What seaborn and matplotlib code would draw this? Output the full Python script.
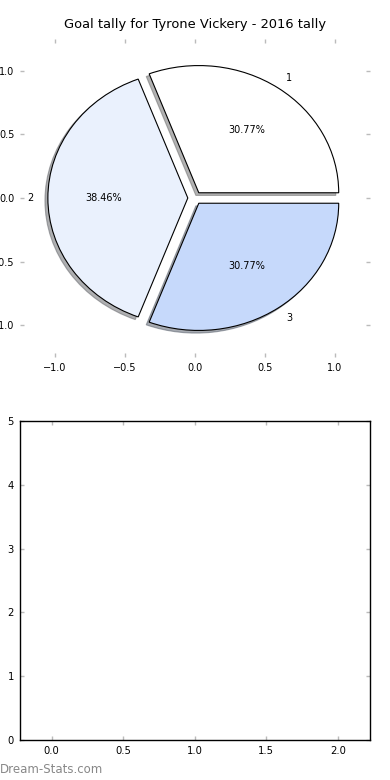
import matplotlib
matplotlib.use('Agg')
import matplotlib.pyplot as plt
import seaborn as sns

# goals per category for the 2016 season
categories = ['1', '2', '3']
goals = [4, 5, 4]
wedge_colors = ['#ffffff', '#eaf1fd', '#c6d9fb']
explode = [0.05, 0.05, 0.05]

# second panel is empty, only its scales
x_ticks_bottom = [0.0, 0.5, 1.0, 1.5, 2.0]
y_ticks_bottom = [0, 1, 2, 3, 4, 5]

sns.set_style('white')
plt.rcParams['font.family'] = ['DejaVu Sans']
plt.rcParams['text.color'] = 'black'
plt.rcParams['xtick.labelcolor'] = 'black'
plt.rcParams['ytick.labelcolor'] = 'black'

fig = plt.figure(figsize=(3.9, 7.8), dpi=100)

ax1 = fig.add_axes([0.051, 0.5423, 0.897, 0.4077])
ax1.pie(goals, labels=categories, colors=wedge_colors, explode=explode,
        autopct='%1.2f%%', startangle=0, frame=True,
        shadow={'ox': -0.015, 'oy': -0.015, 'shade': 0.6},
        wedgeprops={'edgecolor': 'black', 'linewidth': 0.8},
        textprops={'fontsize': 7})
ax1.set_aspect('auto')
ax1.set_xlim(-1.25, 1.25)
ax1.set_ylim(-1.25, 1.25)
ax1.set_xticks([-1.0, -0.5, 0.0, 0.5, 1.0])
ax1.set_yticks([-1.0, -0.5, 0.0, 0.5, 1.0])
sns.despine(ax=ax1, left=True, bottom=True, top=True, right=True)
ax1.tick_params(direction='in', length=3, width=1, color='#bbbbbb',
                labelsize=7, top=True, right=True, left=True, bottom=True, pad=4)
ax1.set_title('Goal tally for Tyrone Vickery - 2016 tally', fontsize=9.4, pad=8)

ax2 = fig.add_axes([0.05, 0.0513, 0.899, 0.409])
ax2.set_xlim(-0.225, 2.225)
ax2.set_ylim(0, 5)
ax2.set_xticks(x_ticks_bottom)
ax2.set_yticks(y_ticks_bottom)
for s in ax2.spines.values():
    s.set_visible(True)
    s.set_color('black')
    s.set_linewidth(1)
ax2.tick_params(direction='in', length=3, width=1, color='#bbbbbb',
                labelsize=7.2, top=True, right=True, left=True, bottom=True, pad=4)

fig.text(0.0, 0.013, 'Dream-Stats.com', fontsize=8.5, color='#888888',
         ha='left', va='center')

fig.savefig('out.png', dpi=100)
